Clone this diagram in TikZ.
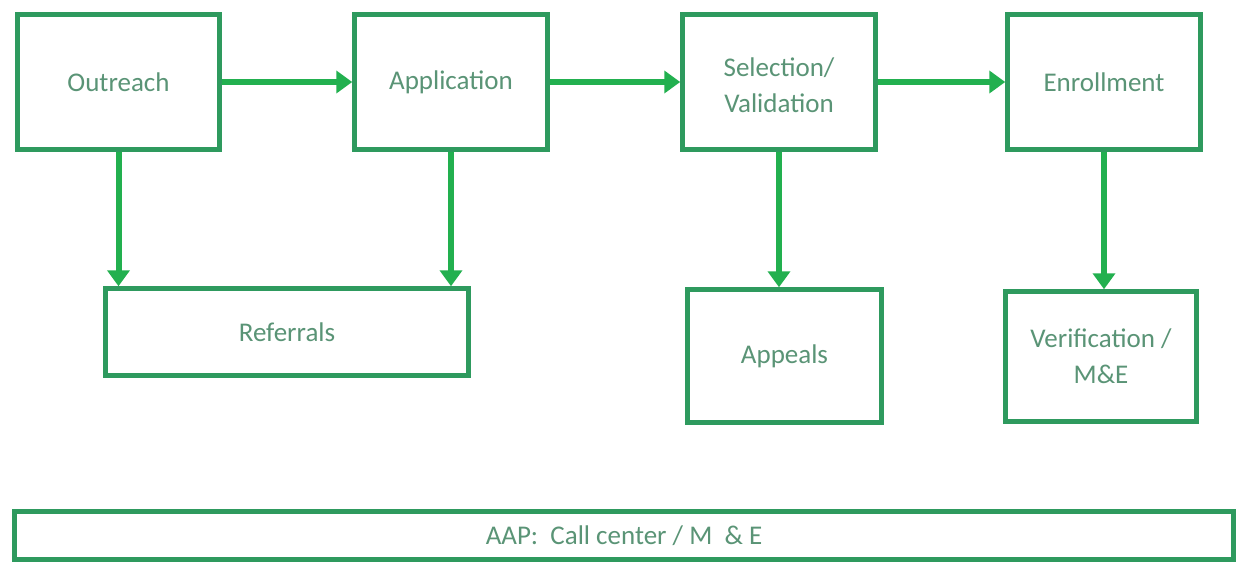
\documentclass[tikz,border=0pt]{standalone}
\usepackage{fontspec}
\setmainfont{Carlito}
\usetikzlibrary{arrows.meta}

\definecolor{boxgreen}{HTML}{2E9A5E}
\definecolor{arrowgreen}{HTML}{22B04F}
\definecolor{textgreen}{HTML}{5A9476}

\begin{document}
\begin{tikzpicture}[x=1pt,y=-1pt]
\useasboundingbox (0,0) rectangle (1246,568);
\begin{scope}[every node/.style={rectangle,draw=boxgreen,line width=4.5pt,fill=white,
              text=textgreen,align=center,inner sep=0pt,
              font=\fontsize{27}{36}\selectfont}]
    \node (outreach) at (118.5, 82) [minimum width=202pt,minimum height=135pt] {Outreach};
    \node (application) at (451, 82) [minimum width=193pt,minimum height=135pt] {Application};
    \node (selection) at (779, 82) [minimum width=193pt,minimum height=135pt] {\strut Selection/\\Validation};
    \node (enrollment) at (1104, 82) [minimum width=193pt,minimum height=135pt] {Enrollment};

    \node (referrals) at (287, 332) [minimum width=363pt,minimum height=87pt] {Referrals};
    \node (appeals) at (784.5, 356) [minimum width=194pt,minimum height=133pt] {Appeals};
    \node (verification) at (1101, 356.5) [minimum width=191pt,minimum height=130pt] {Verification /\\M\&E};

    \node (aap) at (624, 535.5) [minimum width=1219pt,minimum height=48pt] {AAP:\ \ Call center / M \ \& E};
\end{scope}

\begin{scope}[>={Triangle[length=16pt,width=22pt]},
              every path/.style={draw=arrowgreen,line width=6pt}]
    \path [->] (outreach.east) -- (application.west);
    \path [->] (application.east) -- (selection.west);
    \path [->] (selection.east) -- (enrollment.west);

    \path [->] (outreach.south) -- (outreach.south |- referrals.north);
    \path [->] (application.south) -- (application.south |- referrals.north);
    \path [->] (selection.south) -- (selection.south |- appeals.north);
    \path [->] (enrollment.south) -- (enrollment.south |- verification.north);
\end{scope}
\end{tikzpicture}
\end{document}
